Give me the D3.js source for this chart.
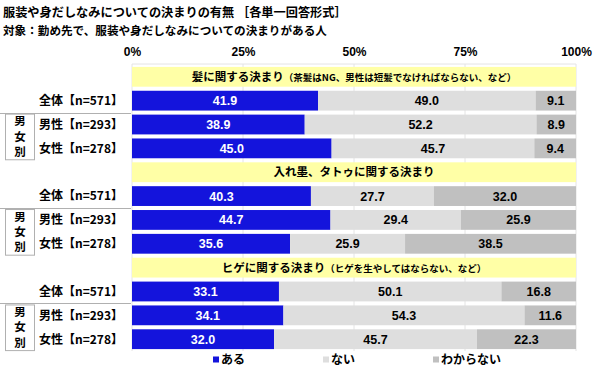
<!DOCTYPE html>
<html><head><meta charset="utf-8">
<script src="https://cdn.jsdelivr.net/npm/d3@7"></script>
<style>
body{margin:0;background:#fff;}
svg{display:block;}
text{font-family:"Liberation Sans",Arial,"Noto Sans CJK JP",sans-serif;}
.jp{font-family:"Noto Sans CJK JP","Liberation Sans",sans-serif;font-weight:bold;}
</style>
</head><body>
<svg id="c" width="600" height="375"></svg>
<script>
const titleLines = ["服装や身だしなみについての決まりの有無 ［各単一回答形式］","対象：勤め先で、服装や身だしなみについての決まりがある人"];
const groupTitles = ["髪に関する決まり","入れ墨、タトゥに関する決まり","ヒゲに関する決まり"];
const groupNotes = ["（茶髪はNG、男性は短髪でなければならない、など）","","（ヒゲを生やしてはならない、など）"];
const rowLabels = ["全体【n=571】","男性【n=293】","女性【n=278】"];
const sideLabel = ["男","女","別"];
const seriesNames = ["ある","ない","わからない"];
const colors = ["#1414dc","#dedede","#c0c0c0"];
const textColors = ["#ffffff","#000000","#000000"];
const ticks = [0,25,50,75,100];
const tickLabels = ["0%","25%","50%","75%","100%"];
// values per group: rows 全体, 男性, 女性
const hairAru   = [41.9,38.9,45.0];
const hairNai   = [49.0,52.2,45.7];
const hairWaka  = [9.1,8.9,9.4];
const tatAru    = [40.3,44.7,35.6];
const tatNai    = [27.7,29.4,25.9];
const tatWaka   = [32.0,25.9,38.5];
const begAru    = [33.1,34.1,32.0];
const begNai    = [50.1,54.3,45.7];
const begWaka   = [16.8,11.6,22.3];

const groups = [[hairAru,hairNai,hairWaka],[tatAru,tatNai,tatWaka],[begAru,begNai,begWaka]];

const svg = d3.select("#c");
const x = d3.scaleLinear().domain([0,100]).range([132,576]);
const rowIds = [];
groups.forEach((g,gi)=>{rowIds.push("h"+gi); rowLabels.forEach((r,ri)=>rowIds.push("r"+gi+"_"+ri));});
const y = d3.scaleBand().domain(rowIds).range([65,351]).paddingInner(0.17).paddingOuter(0.08);

// title
svg.selectAll("text.title").data(titleLines).join("text")
  .attr("class","jp").attr("x",3).attr("y",(d,i)=>17+i*17.5)
  .attr("font-size",(d,i)=>i===0?12.2:11.6).text(d=>d);

// grid
svg.append("line").attr("x1",x(0)).attr("x2",x(100)).attr("y1",64).attr("y2",64).attr("stroke","#e4e4e4");
svg.selectAll("line.grid").data(ticks).join("line").attr("class","grid")
  .attr("x1",d=>x(d)).attr("x2",d=>x(d)).attr("y1",64).attr("y2",351).attr("stroke","#e4e4e4");

// axis
const axis = d3.axisTop(x).tickValues(ticks).tickFormat((d,i)=>tickLabels[i]).tickSize(0).tickPadding(0);
const ag = svg.append("g").attr("transform","translate(0,52)").call(axis);
ag.select(".domain").remove();
ag.selectAll("text").attr("font-size",12).attr("font-weight","bold").attr("fill","#000")
  .attr("font-family","Liberation Sans, Arial, sans-serif").attr("y",0).attr("dy","0.36em");

groups.forEach((g,gi)=>{
  // header band
  const hy = y("h"+gi);
  svg.append("rect").attr("x",x(0)).attr("width",x(100)-x(0)).attr("y",hy).attr("height",y.bandwidth()).attr("fill","#ffffa6");
  const ht = svg.append("text").attr("class","jp").attr("x",(x(0)+x(100))/2).attr("y",hy+y.bandwidth()/2).attr("dy","0.36em")
    .attr("text-anchor","middle").attr("font-size",11.5);
  ht.append("tspan").text(groupTitles[gi]);
  if(groupNotes[gi]) ht.append("tspan").attr("font-size",9.5).text(groupNotes[gi]);

  rowLabels.forEach((rl,ri)=>{
    const ry = y("r"+gi+"_"+ri);
    let acc = 0;
    const segs = g.map((s,si)=>{const v=s[ri]; const o={si,v,x0:acc}; acc+=v; return o;});
    const total = acc;
    const xs = d3.scaleLinear().domain([0,total]).range([x(0),x(100)]);
    svg.append("g").selectAll("rect").data(segs).join("rect")
      .attr("x",d=>xs(d.x0)).attr("width",d=>xs(d.x0+d.v)-xs(d.x0))
      .attr("y",ry).attr("height",y.bandwidth()).attr("fill",d=>colors[d.si]);
    svg.append("g").selectAll("text").data(segs).join("text")
      .attr("x",d=>(xs(d.x0)+xs(d.x0+d.v))/2).attr("y",ry+y.bandwidth()/2).attr("dy","0.36em")
      .attr("text-anchor","middle").attr("font-size",12.5).attr("font-weight","bold")
      .attr("fill",d=>textColors[d.si]).text(d=>d.v.toFixed(1));
    svg.append("text").attr("class","jp").attr("x",123).attr("y",ry+y.bandwidth()/2).attr("dy","0.36em")
      .attr("text-anchor","end").attr("font-size",12).text(rl);
  });
  // separator & side box
  const r0 = y("r"+gi+"_0"), r1 = y("r"+gi+"_1"), r2 = y("r"+gi+"_2");
  const sepY = Math.round((r0+y.bandwidth()+r1)/2)+0.5;
  svg.append("line").attr("x1",0).attr("x2",131).attr("y1",sepY).attr("y2",sepY).attr("stroke","#b0b0b0");
  const bTop = r1-1, bBot = r2+y.bandwidth()+1;
  svg.append("rect").attr("x",5.5).attr("y",bTop+0.5).attr("width",29).attr("height",bBot-bTop).attr("fill","#fff").attr("stroke","#b0b0b0");
  svg.append("g").selectAll("text").data(sideLabel).join("text").attr("class","jp")
    .attr("x",20).attr("y",(d,i)=>bTop+(bBot-bTop)*(i+0.5)/3).attr("dy","0.36em").attr("text-anchor","middle")
    .attr("font-size",11.5).text(d=>d);
});

// legend
const legX = [213,323,433];
const lg = svg.append("g").selectAll("g").data(seriesNames).join("g")
  .attr("transform",(d,i)=>`translate(${legX[i]},360)`);
lg.append("rect").attr("x",0).attr("y",-3.5).attr("width",6).attr("height",6).attr("fill",(d,i)=>colors[i]);
lg.append("text").attr("class","jp").attr("x",8).attr("dy","0.36em").attr("font-size",12).text(d=>d);
</script>
</body></html>
